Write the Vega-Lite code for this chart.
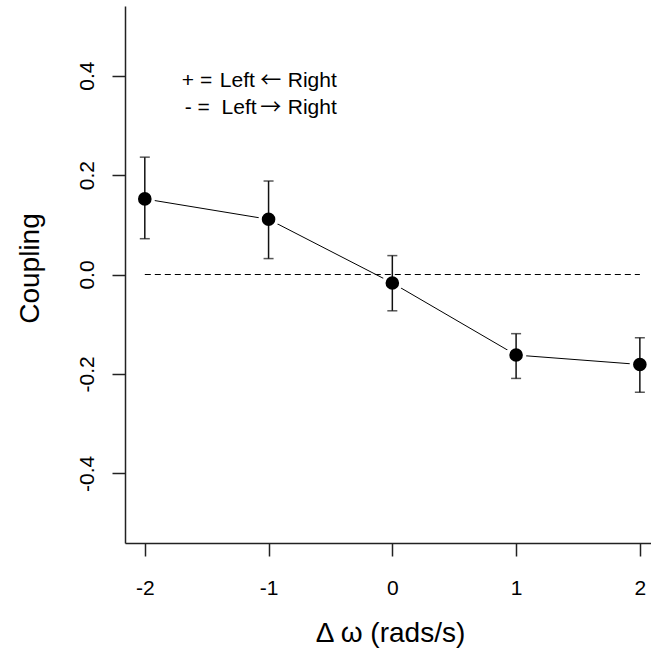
{
  "$schema": "https://vega.github.io/schema/vega-lite/v6.json",
  "autosize": "none",
  "width": 526,
  "height": 537,
  "padding": {"left": 125, "top": 6, "right": 0, "bottom": 110},
  "background": "white",
  "config": {
    "view": {"stroke": null},
    "font": "Liberation Sans",
    "axis": {"grid": false, "domainColor": "#222", "domainWidth": 1.5, "tickColor": "#222", "tickWidth": 1.5, "tickSize": 13, "labelFont": "Liberation Sans", "labelFontSize": 21, "labelColor": "black", "titleFont": "Liberation Sans", "titleFontSize": 28, "titleFontWeight": "normal", "titleColor": "black"}
  },
  "datasets": {
    "pts": [
      {"dw": -2, "coupling": 0.152, "lo": 0.072, "hi": 0.236},
      {"dw": -1, "coupling": 0.111, "lo": 0.032, "hi": 0.188},
      {"dw": 0, "coupling": -0.017, "lo": -0.073, "hi": 0.038},
      {"dw": 1, "coupling": -0.162, "lo": -0.209, "hi": -0.119},
      {"dw": 2, "coupling": -0.181, "lo": -0.237, "hi": -0.127}
    ],
    "ref": [{"dw": -2, "coupling": 0}, {"dw": 2, "coupling": 0}],
    "legL": [
      {"dw": -1.701, "coupling": 0.3765, "label": "+ ="},
      {"dw": -1.677, "coupling": 0.3228, "label": "- ="},
      {"dw": -1.394, "coupling": 0.3765, "label": "Left"},
      {"dw": -1.380, "coupling": 0.3228, "label": "Left"},
      {"dw": -0.845, "coupling": 0.3765, "label": "Right"},
      {"dw": -0.845, "coupling": 0.3228, "label": "Right"}
    ],
    "legA": [
      {"dw": -0.982, "coupling": 0.3765, "label": "\u2190"},
      {"dw": -0.982, "coupling": 0.3228, "label": "\u2192"}
    ]
  },
  "layer": [
    {
      "data": {"name": "pts"},
      "mark": {"type": "line", "color": "black", "strokeWidth": 1, "clip": true},
      "encoding": {
        "x": {"field": "dw", "type": "quantitative", "scale": {"domain": [-2.16, 2.09], "nice": false, "zero": false},
          "axis": {"values": [-2, -1, 0, 1, 2], "labelExpr": "replace(format(datum.value, 'd'), '\u2212', '-')", "labelPadding": 21, "title": "\u0394 \u03c9 (rads/s)", "titleX": 265, "titleY": 90, "titleBaseline": "middle", "titleAlign": "center"}},
        "y": {"field": "coupling", "type": "quantitative", "scale": {"domain": [-0.54, 0.54], "nice": false, "zero": false},
          "axis": {"values": [-0.4, -0.2, 0, 0.2, 0.4], "labelExpr": "replace(format(datum.value, '.1f'), '\u2212', '-')", "labelAngle": -90, "labelAlign": "center", "labelBaseline": "alphabetic", "labelPadding": 19, "title": "Coupling", "titleAngle": -90, "titleX": -95, "titleY": 262, "titleBaseline": "middle", "titleAlign": "center"}}
      }
    },
    {
      "data": {"name": "pts"},
      "mark": {"type": "point", "shape": "circle", "filled": true, "color": "white", "opacity": 1, "size": 420},
      "encoding": {"x": {"field": "dw", "type": "quantitative"}, "y": {"field": "coupling", "type": "quantitative"}}
    },
    {
      "data": {"name": "ref"},
      "mark": {"type": "line", "color": "black", "strokeWidth": 1, "strokeDash": [6, 4]},
      "encoding": {"x": {"field": "dw", "type": "quantitative"}, "y": {"field": "coupling", "type": "quantitative"}}
    },
    {
      "data": {"name": "pts"},
      "mark": {"type": "rule", "color": "#111", "strokeWidth": 1.5},
      "encoding": {"x": {"field": "dw", "type": "quantitative"}, "y": {"field": "lo", "type": "quantitative"}, "y2": {"field": "hi"}}
    },
    {
      "data": {"name": "pts"},
      "mark": {"type": "tick", "orient": "horizontal", "color": "#111", "thickness": 1.5, "size": 10},
      "encoding": {"x": {"field": "dw", "type": "quantitative"}, "y": {"field": "lo", "type": "quantitative"}}
    },
    {
      "data": {"name": "pts"},
      "mark": {"type": "tick", "orient": "horizontal", "color": "#111", "thickness": 1.5, "size": 10},
      "encoding": {"x": {"field": "dw", "type": "quantitative"}, "y": {"field": "hi", "type": "quantitative"}}
    },
    {
      "data": {"name": "pts"},
      "mark": {"type": "point", "shape": "circle", "filled": true, "color": "black", "opacity": 1, "size": 185},
      "encoding": {"x": {"field": "dw", "type": "quantitative"}, "y": {"field": "coupling", "type": "quantitative"}}
    },
    {
      "data": {"name": "legL"},
      "mark": {"type": "text", "align": "left", "baseline": "alphabetic", "fontSize": 21, "font": "Liberation Sans", "color": "black"},
      "encoding": {"x": {"field": "dw", "type": "quantitative"}, "y": {"field": "coupling", "type": "quantitative"}, "text": {"field": "label"}}
    },
    {
      "data": {"name": "legA"},
      "mark": {"type": "text", "align": "center", "baseline": "alphabetic", "fontSize": 21, "font": "Noto Sans CJK SC", "color": "black"},
      "encoding": {"x": {"field": "dw", "type": "quantitative"}, "y": {"field": "coupling", "type": "quantitative"}, "text": {"field": "label"}}
    }
  ]
}
